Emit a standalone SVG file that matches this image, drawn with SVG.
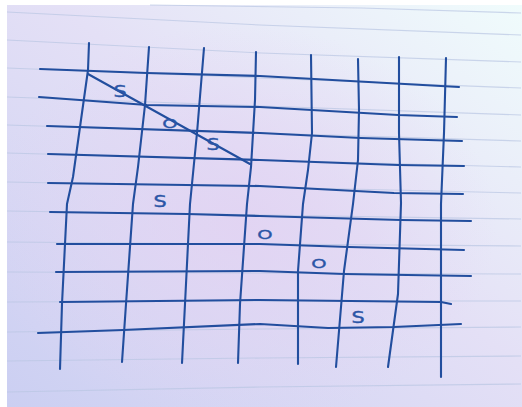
<svg xmlns="http://www.w3.org/2000/svg" width="522" height="407" viewBox="0 0 522 407">
  <defs>
    <linearGradient id="paper" x1="1" y1="0" x2="0" y2="1">
      <stop offset="0" stop-color="#f0fcfc"/>
      <stop offset="0.45" stop-color="#e4e0f6"/>
      <stop offset="1" stop-color="#cbcff2"/>
    </linearGradient>
    <radialGradient id="tint" cx="0.45" cy="0.55" r="0.5">
      <stop offset="0" stop-color="#e2d2f2" stop-opacity="0.8"/>
      <stop offset="1" stop-color="#e2d2f2" stop-opacity="0"/>
    </radialGradient>
    <style>
      .rule { fill: none; stroke: #b9c6e2; stroke-width: 1.1; opacity: 0.7; }
      .pen { fill: none; stroke: #224e9e; stroke-width: 2.1; stroke-linejoin: round; stroke-linecap: round; }
      .hand { font-family: "DejaVu Sans", sans-serif; fill: #2a55a6; stroke: #2a55a6; stroke-width: 0.4; text-anchor: middle; }
    </style>
  </defs>
  <rect x="0" y="0" width="522" height="407" fill="#ffffff"/>
  <rect x="7" y="5" width="515" height="402" fill="url(#paper)"/>
  <rect x="7" y="5" width="515" height="402" fill="url(#tint)"/>

  <g id="ruled-lines">
    <polyline class="rule" points="150,5 361,8 521,13"/>
    <polyline class="rule" points="7,12 260,25 521,35"/>
    <polyline class="rule" points="7,40 261,53 521,62"/>
    <polyline class="rule" points="7,68 261,78 521,88"/>
    <polyline class="rule" points="7,97 261,106 521,115"/>
    <polyline class="rule" points="7,125 261,133 521,141"/>
    <polyline class="rule" points="7,153 261,160 521,167"/>
    <polyline class="rule" points="7,182 261,187 521,193"/>
    <polyline class="rule" points="7,211 261,215 521,219"/>
    <polyline class="rule" points="7,242 261,244 521,246"/>
    <polyline class="rule" points="7,272 261,273 521,274"/>
    <polyline class="rule" points="7,302 261,301 521,301"/>
    <polyline class="rule" points="7,332 261,329 521,327"/>
    <polyline class="rule" points="7,361 261,358 521,356"/>
    <polyline class="rule" points="7,392 261,387 521,384"/>
  </g>

  <g id="grid">
    <polyline class="pen" points="89,43 88,70 80,127 73,177 67,204 62,304 60,369"/>
    <polyline class="pen" points="149,47 145,105 138,167 133,204 126,304 122,362"/>
    <polyline class="pen" points="204,48 197,133 190,204 185,304 182,363"/>
    <polyline class="pen" points="256,52 255,100 251,167 247,204 240,304 238,363"/>
    <polyline class="pen" points="311,55 312,133 308,170 303,204 298,271 298,364"/>
    <polyline class="pen" points="358,59 359,110 358,160 353,204 344,271 336,367"/>
    <polyline class="pen" points="399,57 399,133 401,203 398,294 388,367"/>
    <polyline class="pen" points="446,58 444,133 441,204 441,304 441,377"/>

    <polyline class="pen" points="40,69 147,73 260,76 459,87"/>
    <polyline class="pen" points="39,97 147,105 260,107 398,115 457,117"/>
    <polyline class="pen" points="47,126 260,133 361,138 462,141"/>
    <polyline class="pen" points="48,154 260,160 398,165 464,166"/>
    <polyline class="pen" points="48,183 260,186 394,193 463,194"/>
    <polyline class="pen" points="50,212 187,214 260,216 401,220 471,221"/>
    <polyline class="pen" points="57,244 260,244 349,247 464,250"/>
    <polyline class="pen" points="56,272 260,271 344,274 471,276"/>
    <polyline class="pen" points="60,302 260,300 441,302 451,304"/>
    <polyline class="pen" points="38,333 123,330 260,324 328,328 394,327 461,324"/>
  </g>

  <g id="strike">
    <line class="pen" x1="88" y1="74" x2="250" y2="164"/>
  </g>

  <g id="letters">
    <text class="hand" font-size="16" transform="translate(120,97) scale(1.3,1)">S</text>
    <text class="hand" font-size="15" transform="translate(170,128) scale(1.3,0.85)">O</text>
    <text class="hand" font-size="16" transform="translate(213,150) scale(1.3,1)">S</text>
    <text class="hand" font-size="16" transform="translate(160,207) scale(1.3,1)">S</text>
    <text class="hand" font-size="15" transform="translate(265,239) scale(1.3,0.85)">O</text>
    <text class="hand" font-size="15" transform="translate(319,268) scale(1.3,0.85)">O</text>
    <text class="hand" font-size="16" transform="translate(358,323) scale(1.3,1)">S</text>
  </g>
</svg>
